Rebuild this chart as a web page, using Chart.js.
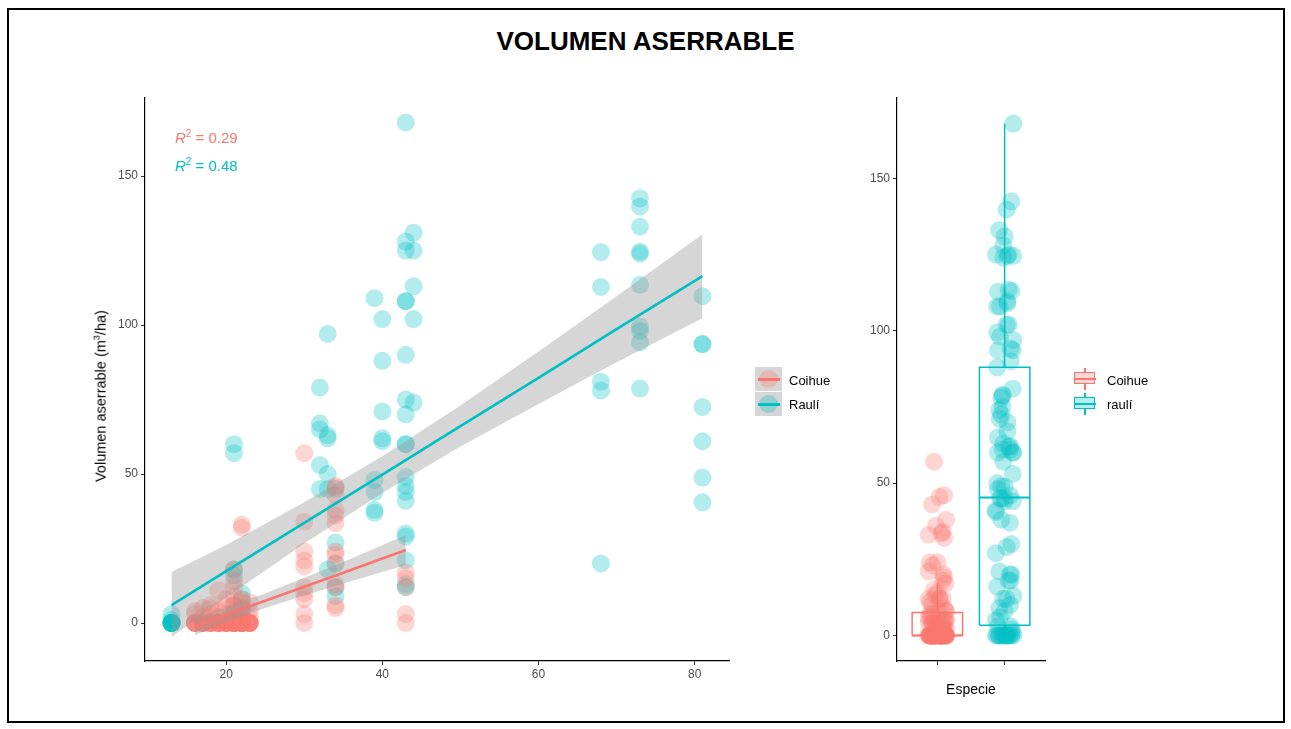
<!DOCTYPE html>
<html lang="es">
  <head>
    <meta charset="UTF-8" />
    <title>Volumen aserrable</title>
    <script src="https://cdn.jsdelivr.net/npm/chart.js"></script>
    <style>
      body { margin: 0; background: #fff; font-family: "Liberation Sans", Arial, sans-serif; }
      #wrap { position: relative; width: 1291px; height: 729px; }
      #frame { position: absolute; left: 7px; top: 8px; width: 1278px; height: 715px; border: 2px solid #000; box-sizing: border-box; }
      canvas { position: absolute; left: 0; top: 0; }
      #title { position: absolute; left: 0; width: 1291px; top: 26px; text-align: center; font-weight: bold; font-size: 26px; }
      #ylab { position: absolute; left: 100px; top: 396px; transform: translate(-50%, -50%) rotate(-90deg); white-space: nowrap; font-size: 14.5px; }
      #ylab sup { font-size: 9px; }
      .r2 { position: absolute; left: 175px; font-size: 15px; line-height: 1; white-space: nowrap; }
      .r2 i sup { font-style: normal; font-size: 10px; }
      .leg { position: absolute; font-size: 13px; }
      .key { position: absolute; width: 27px; height: 24px; background: #d6d6d6; }
      .key .dot { position: absolute; left: 4px; top: 3px; width: 19px; height: 18px; border-radius: 50%; }
      .key .bar { position: absolute; left: 3px; top: 11px; width: 22px; height: 3px; }
      .bkey { position: absolute; width: 24px; height: 24px; }
      .bkey .wh { position: absolute; left: 11px; top: 1px; width: 1.5px; height: 22px; }
      .bkey .bx { position: absolute; left: 1px; top: 5px; width: 19px; height: 10px; border: 1.5px solid; }
      .bkey .md { position: absolute; left: 1px; top: 11px; width: 22px; height: 1.5px; }
      .lab { position: absolute; transform: translateY(-50%); white-space: nowrap; }
    </style>
  </head>
  <body>
    <div id="wrap">
      <div id="frame"></div>
      <div id="title">VOLUMEN ASERRABLE</div>
      <canvas id="scatterChart" width="1291" height="729"></canvas>
      <canvas id="boxChart" width="1291" height="729"></canvas>
      <div id="ylab">Volumen aserrable (m<sup>3</sup>/ha)</div>
      <div class="r2" style="top:129px;color:#F8766D"><i>R<sup>2</sup></i> = 0.29</div>
      <div class="r2" style="top:157px;color:#00BFC4"><i>R<sup>2</sup></i> = 0.48</div>

      <div class="key" style="left:755px;top:367px"><div class="dot" style="background:rgba(248,118,109,0.3)"></div><div class="bar" style="background:#F8766D"></div></div>
      <div class="key" style="left:755px;top:392px"><div class="dot" style="background:rgba(0,191,196,0.3)"></div><div class="bar" style="background:#00BFC4"></div></div>
      <div class="leg lab" style="left:789px;top:380px">Coihue</div>
      <div class="leg lab" style="left:789px;top:404px">Raulí</div>

      <div class="bkey" style="left:1073px;top:367px"><div class="wh" style="background:#F8766D"></div><div class="bx" style="border-color:#F8766D;background:#fdd9d6"></div><div class="md" style="background:#F8766D"></div></div>
      <div class="bkey" style="left:1073px;top:392px"><div class="wh" style="background:#00BFC4"></div><div class="bx" style="border-color:#00BFC4;background:#b7ecee"></div><div class="md" style="background:#00BFC4"></div></div>
      <div class="leg lab" style="left:1107px;top:380px">Coihue</div>
      <div class="leg lab" style="left:1107px;top:404px">raulí</div>
    </div>

    <script>
      // Datos: clases diamétricas y volúmenes (m3/ha) por especie
      const coihueDiam = [16, 17, 18, 19, 20, 21, 22, 23, 30, 34, 43];
      const coihueVol = [
        [0, 0, 0, 0, 0, 0, 3, 4],
        [0, 0, 0, 0, 0, 0, 2, 5],
        [0, 0, 0, 0, 0, 0, 3, 5, 6],
        [0, 0, 0, 0, 0, 0, 0, 2, 4, 11],
        [0, 0, 0, 0, 0, 0, 0, 1, 3, 6, 8],
        [0, 0, 0, 0, 0, 0, 0, 0, 2, 4, 6, 9, 12, 14, 18],
        [0, 0, 0, 0, 0, 0, 0, 0, 1, 3, 5, 7, 8, 32, 33],
        [0, 0, 0, 0, 0, 0, 0, 2, 4, 7],
        [0, 3, 8, 10, 12, 19, 21, 24, 34, 57],
        [5, 6, 12, 13, 20, 23, 24, 33.5, 36, 38, 43, 45.5, 46],
        [0, 3, 12, 15, 17],
      ];
      const rauliDiam = [13, 21, 22, 32, 33, 34, 39, 40, 43, 44, 68, 73, 81];
      const rauliVol = [
        [0, 0, 0, 0, 0, 0, 0, 0, 0, 0, 0, 1, 3],
        [0, 0, 3, 6, 16, 18, 57, 60],
        [0, 0, 2, 5, 8, 10],
        [45, 53, 65, 67, 79],
        [18, 45, 50, 62, 63, 97],
        [9, 12, 20, 27, 45],
        [37, 38, 44, 48, 109],
        [61, 62, 71, 88, 102],
        [12, 13, 21, 29, 30, 41, 44, 46, 49, 60, 60, 70, 75, 90, 108, 108, 125, 128, 168],
        [74, 102, 113, 125, 131],
        [20, 78, 81, 112.8, 124.5],
        [78.7, 94.2, 98, 99.5, 113.5, 124, 124.6, 133, 139.8, 142.5],
        [40.5, 48.8, 61, 72.5, 93.6, 93.6, 109.7],
      ];

      // Ajuste lineal y banda de confianza
      const coihueFitX = [16, 20, 25, 30, 35, 43];
      const coihueFitY = [-1.0, 2.8, 7.5, 12.2, 16.9, 24.5];
      const coihueUpper = [2.0, 5.3, 10.0, 15.2, 20.5, 29.5];
      const coihueLower = [-4.0, 0.3, 5.0, 9.2, 13.3, 19.5];
      const rauliFitX = [13, 20, 30, 40, 50, 60, 70, 81];
      const rauliFitY = [6, 17.4, 33.6, 49.8, 66.1, 82.3, 98.6, 116.4];
      const rauliUpper = [17.1, 26.2, 40.5, 56.0, 73.0, 91.1, 109.7, 130.5];
      const rauliLower = [-4.7, 8.6, 26.7, 43.6, 59.2, 73.5, 87.5, 102.3];

      // Estadísticos del boxplot: [mín bigote, Q1, mediana, Q3, máx bigote]
      const especies = ["Coihue", "raulí"];
      const coihueBox = [0, 0, 0, 7.5, 17];
      const rauliBox = [0, 3.3, 45.3, 88, 168];

      // Ejes
      const xTicks = [20, 40, 60, 80];
      const yTicks = [0, 50, 100, 150];

      const rojo = "#F8766D";
      const cian = "#00BFC4";
      const rojoA = "rgba(248,118,109,0.3)";
      const cianA = "rgba(0,191,196,0.3)";
      const banda = "rgba(153,153,153,0.4)";
      const tickFont = { family: "'Liberation Sans', Arial, sans-serif", size: 12 };

      function flatten(diams, vols) {
        const out = [];
        diams.forEach((d, i) => vols[i].forEach((v) => out.push({ x: d, y: v })));
        return out;
      }
      const pts = (xs, ys) => xs.map((x, i) => ({ x: x, y: ys[i] }));

      const axisGrid = { drawOnChartArea: false, drawTicks: true, tickLength: 4, color: "#333" };
      const axisBorder = { display: true, color: "#000", width: 1.2 };

      function lineDs(data, color, width, order, extra) {
        return Object.assign({
          type: "line", data: data, borderColor: color, borderWidth: width,
          pointRadius: 0, pointHoverRadius: 0, fill: false, tension: 0, order: order,
        }, extra || {});
      }

      // Gráfico de dispersión
      new Chart(document.getElementById("scatterChart"), {
        type: "scatter",
        data: {
          datasets: [
            lineDs(pts(rauliFitX, rauliFitY), cian, 2.6, 0),
            lineDs(pts(rauliFitX, rauliUpper), "rgba(0,0,0,0)", 0, 1),
            lineDs(pts(rauliFitX, rauliLower), "rgba(0,0,0,0)", 0, 1, { fill: "-1", backgroundColor: banda }),
            lineDs(pts(coihueFitX, coihueFitY), rojo, 2.6, 2),
            lineDs(pts(coihueFitX, coihueUpper), "rgba(0,0,0,0)", 0, 3),
            lineDs(pts(coihueFitX, coihueLower), "rgba(0,0,0,0)", 0, 3, { fill: "-1", backgroundColor: banda }),
            { label: "Coihue", data: flatten(coihueDiam, coihueVol), backgroundColor: rojoA, pointRadius: 9, pointBorderWidth: 0, order: 4 },
            { label: "Raulí", data: flatten(rauliDiam, rauliVol), backgroundColor: cianA, pointRadius: 9, pointBorderWidth: 0, order: 5 },
          ],
        },
        options: {
          responsive: false,
          animation: false,
          layout: { padding: { left: 88, top: 98, right: 562, bottom: 0 } },
          plugins: { legend: { display: false }, tooltip: { enabled: false } },
          scales: {
            x: {
              type: "linear", min: 9.6, max: 84.4,
              grid: axisGrid, border: axisBorder,
              afterBuildTicks: (s) => { s.ticks = xTicks.map((v) => ({ value: v })); },
              afterFit: (s) => { s.height = 68; },
              ticks: { color: "#4d4d4d", font: tickFont, padding: 2, maxRotation: 0 },
            },
            y: {
              type: "linear", min: -12.75, max: 176.2,
              grid: axisGrid, border: axisBorder,
              afterBuildTicks: (s) => { s.ticks = yTicks.map((v) => ({ value: v })); },
              afterFit: (s) => { s.width = 57; },
              ticks: { color: "#4d4d4d", font: tickFont, padding: 3 },
            },
          },
        },
      });

      // Boxplot con puntos
      const jitter = [-0.11, 0.06, -0.02, 0.13, -0.08, 0.03, 0.1, -0.13, 0.0, 0.08, -0.05, 0.12, -0.1, 0.04, -0.03, 0.09, -0.07];
      function jittered(vols, center) {
        const out = [];
        vols.flat().forEach((v, i) => out.push({ x: center + jitter[i % jitter.length], y: v }));
        return out;
      }
      function boxDatasets(stats, center, color) {
        const hw = 0.375;
        const [lo, q1, med, q3, hi] = stats;
        const l = center - hw, r = center + hw;
        return [
          lineDs([{ x: l, y: q1 }, { x: r, y: q1 }, { x: r, y: q3 }, { x: l, y: q3 }, { x: l, y: q1 }], color, 1.5, 10),
          lineDs([{ x: l, y: med }, { x: r, y: med }], color, 2, 10),
          lineDs([{ x: center, y: q3 }, { x: center, y: hi }], color, 1.5, 10),
          lineDs([{ x: center, y: lo }, { x: center, y: q1 }], color, 1.5, 10),
        ];
      }

      new Chart(document.getElementById("boxChart"), {
        type: "scatter",
        data: {
          datasets: [
            { label: especies[1], data: jittered(rauliVol, 2), backgroundColor: cianA, pointRadius: 9, pointBorderWidth: 0, order: 1 },
            { label: especies[0], data: jittered(coihueVol, 1), backgroundColor: rojoA, pointRadius: 9, pointBorderWidth: 0, order: 2 },
            ...boxDatasets(coihueBox, 1, rojo),
            ...boxDatasets(rauliBox, 2, cian),
          ],
        },
        options: {
          responsive: false,
          animation: false,
          layout: { padding: { left: 850, top: 98, right: 246, bottom: 26 } },
          plugins: { legend: { display: false }, tooltip: { enabled: false } },
          scales: {
            x: {
              type: "linear", min: 0.4, max: 2.6,
              grid: axisGrid, border: axisBorder,
              afterBuildTicks: (s) => { s.ticks = [1, 2].map((v) => ({ value: v })); },
              afterFit: (s) => { s.height = 42; },
              ticks: { callback: () => "", font: tickFont },
              title: { display: true, text: "Especie", color: "#000", font: { family: "'Liberation Sans', Arial, sans-serif", size: 14 } },
            },
            y: {
              type: "linear", min: -8.4, max: 176.4,
              grid: axisGrid, border: axisBorder,
              afterBuildTicks: (s) => { s.ticks = yTicks.map((v) => ({ value: v })); },
              afterFit: (s) => { s.width = 47; },
              ticks: { color: "#4d4d4d", font: tickFont, padding: 3 },
            },
          },
        },
      });
    </script>
  </body>
</html>
